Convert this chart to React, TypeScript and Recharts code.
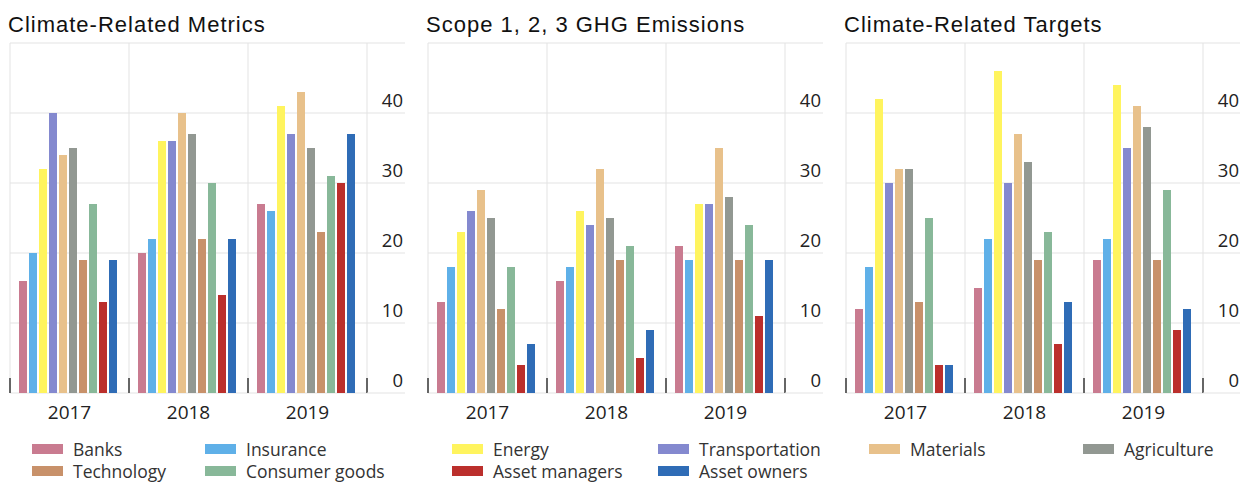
import { BarChart, Bar, XAxis, YAxis, CartesianGrid } from 'recharts';

const years = ['2017', '2018', '2019'];
const sectors = [
  'Banks', 'Insurance', 'Energy', 'Transportation', 'Materials',
  'Agriculture', 'Technology', 'Consumer goods', 'Asset managers', 'Asset owners',
];
const sectorColors = [
  '#c97b90', '#5fb0e8', '#fff45e', '#8489cf', '#e8c18b',
  '#929892', '#c8916a', '#88b899', '#bb2f2c', '#2f6cb6',
];

// values in sector order, one array per year
const metrics2017 = [16, 20, 32, 40, 34, 35, 19, 27, 13, 19];
const metrics2018 = [20, 22, 36, 36, 40, 37, 22, 30, 14, 22];
const metrics2019 = [27, 26, 41, 37, 43, 35, 23, 31, 30, 37];

const scope2017 = [13, 18, 23, 26, 29, 25, 12, 18, 4, 7];
const scope2018 = [16, 18, 26, 24, 32, 25, 19, 21, 5, 9];
const scope2019 = [21, 19, 27, 27, 35, 28, 19, 24, 11, 19];

const targets2017 = [12, 18, 42, 30, 32, 32, 13, 25, 4, 4];
const targets2018 = [15, 22, 46, 30, 37, 33, 19, 23, 7, 13];
const targets2019 = [19, 22, 44, 35, 41, 38, 19, 29, 9, 12];

const yTicks = [0, 10, 20, 30, 40, 50];

const panelTitles = ['Climate-Related Metrics', 'Scope 1, 2, 3 GHG Emissions', 'Climate-Related Targets'];
const panelValues = [
  [metrics2017, metrics2018, metrics2019],
  [scope2017, scope2018, scope2019],
  [targets2017, targets2018, targets2019],
];
const legendItems = [
  ['Banks', 'Insurance', 'Technology', 'Consumer goods'],
  ['Energy', 'Transportation', 'Asset managers', 'Asset owners'],
  ['Materials', 'Agriculture'],
];

// layout
const PANEL_W = 418;
const CHART_H = 430;
const PLOT_LEFT = 10;
const PLOT_W = 357;
const PLOT_TOP = 43;
const PLOT_BOTTOM = 393;
const AXIS_W = 38;
const BAND = PLOT_W / years.length;
const PLOT_RIGHT = PLOT_LEFT + PLOT_W;
const GRID = '#e3e3e3';
const legendCols = [[32, 205], [34, 240], [33, 247]];
const legendRows = [449, 471];

const buildRows = (values: number[][]) =>
  years.map((year, i) => {
    const row: Record<string, string | number> = { year };
    sectors.forEach((_, j) => {
      row[`s${j}`] = values[i][j];
    });
    return row;
  });

const YTick = (props: any) => {
  const { y, payload } = props;
  return (
    <g>
      <line x1={PLOT_RIGHT} x2={PLOT_RIGHT + AXIS_W} y1={y} y2={y} stroke={GRID} />
      {payload.value !== 50 && (
        <text
          x={PLOT_RIGHT + AXIS_W - 2}
          y={y - 14}
          textAnchor="end"
          dominantBaseline="central"
          fontSize={18.5}
          fontFamily="'Open Sans', sans-serif"
          fill="#222"
        >
          {payload.value}
        </text>
      )}
    </g>
  );
};

const XTick = (props: any) => {
  const { x, payload, index } = props;
  const half = BAND / 2;
  return (
    <g>
      <line x1={x - half} x2={x - half} y1={PLOT_BOTTOM} y2={PLOT_BOTTOM - 15} stroke="#666" strokeWidth={2} />
      {index === years.length - 1 && (
        <line x1={x + half} x2={x + half} y1={PLOT_BOTTOM} y2={PLOT_BOTTOM - 15} stroke="#666" strokeWidth={2} />
      )}
      <text
        x={x}
        y={412}
        textAnchor="middle"
        dominantBaseline="central"
        fontSize={19}
        fontFamily="'Open Sans', sans-serif"
        fill="#222"
      >
        {payload.value}
      </text>
    </g>
  );
};

const Panel = ({ index }: { index: number }) => {
  const data = buildRows(panelValues[index]);
  const vLines = years.map((_, i) => PLOT_LEFT + i * BAND).concat(PLOT_RIGHT);
  return (
    <div style={{ position: 'absolute', left: index * PANEL_W, top: 0, width: PANEL_W, height: 482 }}>
      <div
        style={{
          position: 'absolute',
          left: PLOT_LEFT - 2,
          top: 14,
          fontFamily: "'Liberation Sans', Arial, sans-serif",
          fontSize: 22,
          lineHeight: '22px',
          letterSpacing: 1,
          color: '#111',
          whiteSpace: 'nowrap',
        }}
      >
        {panelTitles[index]}
      </div>
      <div style={{ position: 'absolute', left: 0, top: 0 }}>
        <BarChart
          width={PANEL_W}
          height={CHART_H}
          data={data}
          margin={{ top: PLOT_TOP, right: PANEL_W - PLOT_RIGHT - AXIS_W, bottom: 0, left: PLOT_LEFT }}
          barCategoryGap={9}
          barGap={2}
        >
          <CartesianGrid stroke={GRID} verticalPoints={vLines} />
          <XAxis
            dataKey="year"
            axisLine={false}
            tickLine={false}
            height={CHART_H - PLOT_BOTTOM}
            interval={0}
            tick={<XTick />}
          />
          <YAxis
            orientation="right"
            width={AXIS_W}
            domain={[0, 50]}
            ticks={yTicks}
            axisLine={false}
            tickLine={false}
            tick={<YTick />}
          />
          {sectors.map((name, j) => (
            <Bar key={name} dataKey={`s${j}`} name={name} fill={sectorColors[j]} isAnimationActive={false} />
          ))}
        </BarChart>
      </div>
      {legendItems[index].map((name, k) => {
        const color = sectorColors[sectors.indexOf(name)];
        return (
          <div
            key={name}
            style={{
              position: 'absolute',
              left: legendCols[index][k % 2],
              top: legendRows[Math.floor(k / 2)] - 11,
              height: 22,
              display: 'flex',
              alignItems: 'center',
              fontFamily: "'Open Sans', sans-serif",
              fontSize: 17.5,
              lineHeight: '22px',
              color: '#333',
              whiteSpace: 'nowrap',
            }}
          >
            <span style={{ display: 'inline-block', width: 31, height: 10, background: color, marginRight: 10 }} />
            <span>{name}</span>
          </div>
        );
      })}
    </div>
  );
}

export default function App() {
  return (
    <div style={{ position: 'relative', width: 1240, height: 482, overflow: 'hidden', background: '#fff' }}>
      <style>{'body{margin:0}'}</style>
      {panelTitles.map((_, i) => (
        <Panel key={i} index={i} />
      ))}
    </div>
  );
}
